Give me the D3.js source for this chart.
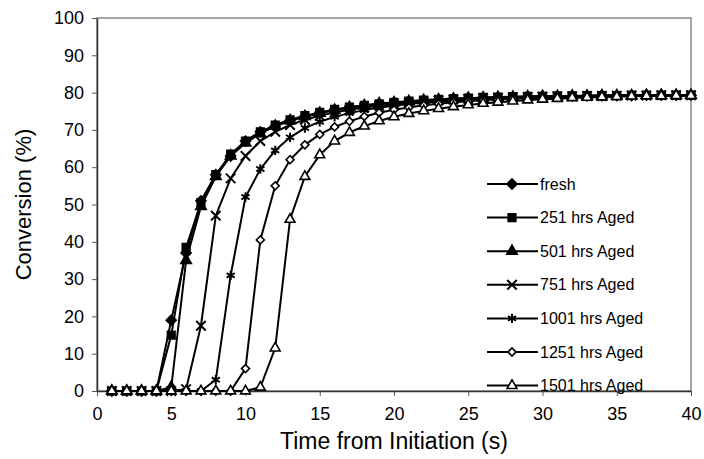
<!DOCTYPE html>
<html>
  <head>
    <meta charset="utf-8">
    <script src="https://d3js.org/d3.v7.min.js"></script>
    <title>Conversion vs time</title>
    <style>
      body { margin: 0px; background: #fff; }
      text { font-family: 'Liberation Sans', Arial, sans-serif; fill: #000; }
      .tick text { font-size: 18px; }
      .legend text { font-size: 16px; }
    </style>
  </head>
  <body>
    <svg width="704" height="459"></svg>
    <script>
      const times = d3.range(1, 41);
      const seriesNames = ['fresh', '251 hrs Aged', '501 hrs Aged', '751 hrs Aged',
        '1001 hrs Aged', '1251 hrs Aged', '1501 hrs Aged'];

      const fresh = [0,0,0,0,19,37,51,58,63,67,69.5,71,72.5,73.5,74.5,75.3,76,76.5,77,77.3,
        77.6,77.9,78.1,78.3,78.5,78.6,78.7,78.8,78.9,79,79,79.1,79.1,79.2,79.2,79.2,79.3,79.3,79.3,79.3];
      const aged251 = [0,0,0,0,15,38.5,50.5,58,63.5,67,69.5,71.3,72.7,73.8,74.7,75.5,76.1,76.6,77,77.4,
        77.7,78,78.2,78.4,78.5,78.7,78.8,78.9,79,79,79.1,79.1,79.2,79.2,79.2,79.3,79.3,79.3,79.3,79.3];
      const aged501 = [0,0,0,0,1,35,49.5,57.5,63,66.5,69,71,72.5,73.6,74.5,75.3,76,76.5,77,77.3,
        77.6,77.9,78.1,78.3,78.5,78.6,78.7,78.8,78.9,79,79,79.1,79.1,79.2,79.2,79.2,79.3,79.3,79.3,79.3];
      const aged751 = [0,0,0,0,0,0.5,17.5,47,57,63,67,69.5,71.3,72.7,73.8,74.7,75.4,76,76.5,76.9,
        77.3,77.6,77.9,78.1,78.3,78.5,78.6,78.7,78.8,78.9,79,79,79.1,79.1,79.2,79.2,79.2,79.3,79.3,79.3];
      const aged1001 = [0,0,0,0,0,0,0,3,31,52,59.5,64.5,68,70.5,72.2,73.5,74.5,75.3,76,76.5,
        77,77.3,77.6,77.9,78.1,78.3,78.5,78.6,78.7,78.8,78.9,79,79,79.1,79.1,79.2,79.2,79.2,79.3,79.3];
      const aged1251 = [0,0,0,0,0,0,0,0,0,6,40.5,55,62,66,68.8,70.8,72.3,73.6,74.6,75.4,
        76,76.6,77,77.4,77.7,78,78.2,78.4,78.5,78.7,78.8,78.9,79,79,79.1,79.1,79.2,79.2,79.2,79.3];
      const aged1501 = [0,0,0,0,0,0,0,0,0,0,1,11.5,46,57.5,63.3,67,69.3,71,72.4,73.5,
        74.4,75.1,75.7,76.2,76.7,77.1,77.4,77.7,78,78.2,78.4,78.6,78.7,78.8,78.9,79,79.1,79.1,79.2,79.2];

      const seriesValues = [fresh, aged251, aged501, aged751, aged1001, aged1251, aged1501];
      const markerTypes = ['diamond', 'square', 'triangle', 'times', 'asterisk', 'diamondOpen', 'triangleOpen'];

      const xTicks = [0, 5, 10, 15, 20, 25, 30, 35, 40];
      const yTicks = [0, 10, 20, 30, 40, 50, 60, 70, 80, 90, 100];

      const margin = { left: 97, right: 13, top: 18, bottom: 68 };
      const svg = d3.select('svg');
      const width = +svg.attr('width');
      const height = +svg.attr('height');
      const innerWidth = width - margin.left - margin.right;
      const innerHeight = height - margin.top - margin.bottom;

      const xScale = d3.scaleLinear().domain([0, 40]).range([0, innerWidth]);
      const yScale = d3.scaleLinear().domain([0, 100]).range([innerHeight, 0]);

      const g = svg.append('g')
          .attr('transform', `translate(${margin.left},${margin.top})`);

      // plot area frame
      g.append('rect')
          .attr('width', innerWidth)
          .attr('height', innerHeight)
          .attr('fill', 'none')
          .attr('stroke', '#8a8a8a')
          .attr('stroke-width', 1.5);

      const xAxisG = g.append('g')
          .attr('transform', `translate(0,${innerHeight})`)
          .call(d3.axisBottom(xScale).tickValues(xTicks).tickSize(5).tickPadding(11).tickSizeOuter(0));
      const yAxisG = g.append('g')
          .call(d3.axisLeft(yScale).tickValues(yTicks).tickSize(5).tickPadding(8).tickSizeOuter(0));
      [xAxisG, yAxisG].forEach(a => {
        a.attr('font-size', 18).attr('font-family', null);
        a.select('.domain').attr('stroke', '#333').attr('stroke-width', 1.5);
        a.selectAll('.tick line').attr('stroke', '#555');
      });

      svg.append('text')
          .attr('x', margin.left + innerWidth / 2)
          .attr('y', 449)
          .attr('text-anchor', 'middle')
          .style('font-size', '23px')
          .text('Time from Initiation (s)');
      svg.append('text')
          .attr('transform', `translate(23,${margin.top + innerHeight / 2}) rotate(-90)`)
          .attr('text-anchor', 'middle')
          .attr('dy', '0.35em')
          .style('font-size', '22px')
          .text('Conversion (%)');

      const symbolFor = {
        diamond: { type: d3.symbolSquare, size: 50, fill: '#000', rotate: 45 },
        square: { type: d3.symbolSquare, size: 58, fill: '#000', rotate: 0 },
        triangle: { type: d3.symbolTriangle, size: 48, fill: '#000', rotate: 0 },
        times: { type: d3.symbolTimes || d3.symbolCross, size: 60, fill: 'none', rotate: 0, sw: 2 },
        asterisk: { type: d3.symbolAsterisk || d3.symbolCross, size: 62, fill: 'none', rotate: 0, sw: 2 },
        diamondOpen: { type: d3.symbolSquare, size: 32, fill: '#fff', rotate: 45 },
        triangleOpen: { type: d3.symbolTriangle, size: 42, fill: '#fff', rotate: 0 }
      };

      const drawMarker = (sel, kind, at) => {
        const s = symbolFor[kind];
        sel.attr('d', d3.symbol().type(s.type).size(s.size)())
          .attr('transform', (d, i) => { const p = at(d, i); return `translate(${p[0]},${p[1]}) rotate(${s.rotate})`; })
          .attr('fill', s.fill)
          .attr('stroke', '#000')
          .attr('stroke-width', s.sw || 1.6);
      };

      const line = d3.line()
          .x((d, i) => xScale(times[i]))
          .y(d => yScale(d));

      seriesValues.forEach((vals, si) => {
        const sg = g.append('g');
        sg.append('path')
            .attr('d', line(vals))
            .attr('fill', 'none')
            .attr('stroke', '#000')
            .attr('stroke-width', 2);
        sg.selectAll('path.m').data(vals)
          .enter().append('path')
            .attr('class', 'm')
            .call(drawMarker, markerTypes[si], (d, i) => [xScale(times[i]), yScale(d)]);
      });

      // legend
      const legend = svg.append('g').attr('class', 'legend')
          .attr('transform', 'translate(487,184)');
      seriesNames.forEach((name, i) => {
        const row = legend.append('g').attr('transform', `translate(0,${i * 33.6})`);
        row.append('line')
            .attr('x1', 0).attr('x2', 51)
            .attr('stroke', '#000').attr('stroke-width', 2);
        row.append('path')
            .datum(0)
            .call(drawMarker, markerTypes[i], () => [25, 0]);
        row.append('text')
            .attr('x', 53)
            .attr('dy', '0.35em')
            .text(name);
      });
    </script>
  </body>
</html>
